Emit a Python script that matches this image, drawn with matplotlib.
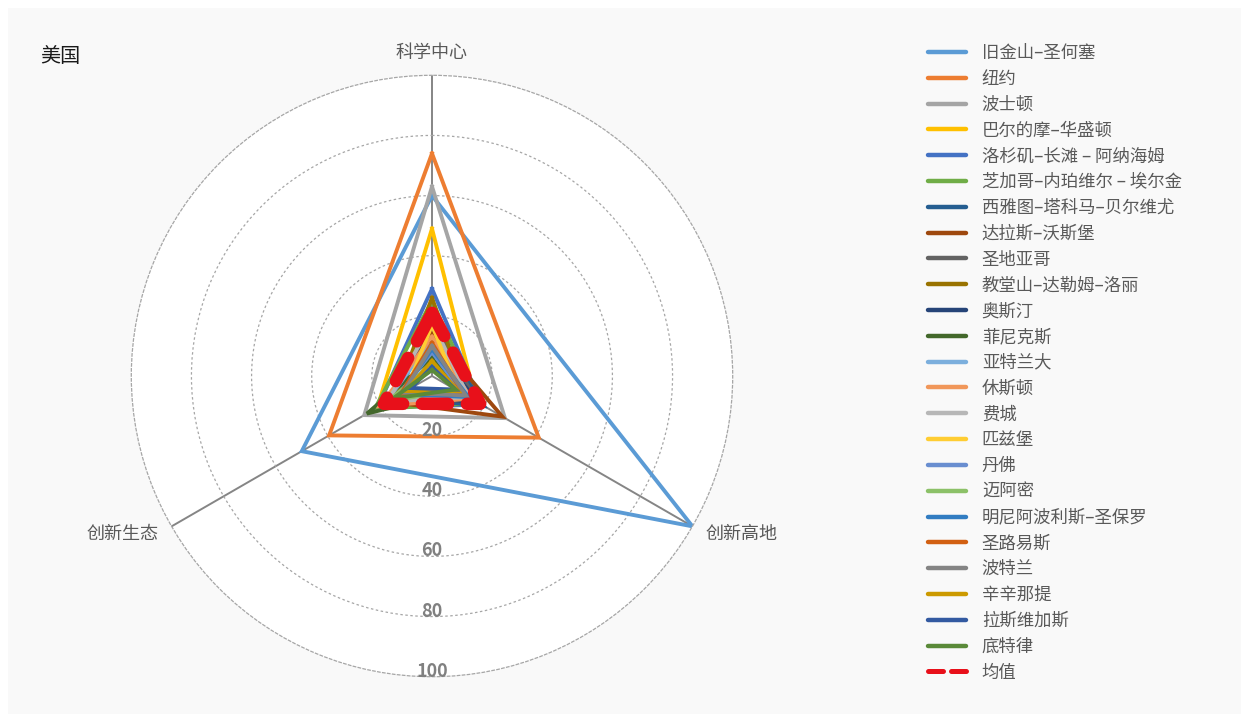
import numpy as np
import matplotlib
matplotlib.use('Agg')
import matplotlib.pyplot as plt
from matplotlib.patches import Rectangle

plt.rcParams['font.family'] = ['Noto Sans CJK SC', 'DejaVu Sans']

# three indicator axes, clockwise from the top
dims = ['科学中心', '创新高地', '创新生态']

cities = ['旧金山–圣何塞', '纽约', '波士顿', '巴尔的摩–华盛顿',
          '洛杉矶–长滩 – 阿纳海姆', '芝加哥–内珀维尔 – 埃尔金',
          '西雅图–塔科马–贝尔维尤', '达拉斯–沃斯堡', '圣地亚哥',
          '教堂山–达勒姆–洛丽', '奥斯汀', '菲尼克斯', '亚特兰大', '休斯顿',
          '费城', '匹兹堡', '丹佛', '迈阿密', '明尼阿波利斯–圣保罗',
          '圣路易斯', '波特兰', '辛辛那提', '拉斯维加斯', '底特律']

# scores per city: [科学中心, 创新高地, 创新生态]
science = [60, 74, 63, 49, 29, 25, 17, 14, 19, 26, 10, 6,
           12, 13, 18, 17, 8, 4, 9, 11, 10, 5, 3, 2]
highland = [100, 41, 28, 17, 19, 18, 20, 27, 17, 13, 18, 10,
            13, 15, 14, 10, 12, 9, 14, 12, 13, 10, 9, 9]
ecology = [50, 39.5, 26, 21, 21, 22, 14, 17, 15, 14, 12, 25,
           18, 20, 17, 10, 13, 17, 12, 12, 11, 10, 8, 15]
mean_vals = [21, 18.5, 18.5]

colors = ['#5B9BD5', '#ED7D31', '#A5A5A5', '#FFC000', '#4472C4', '#70AD47',
          '#255E91', '#9E480E', '#636363', '#997300', '#264478', '#43682B',
          '#7CAFDD', '#F1975A', '#B7B7B7', '#FFCD33', '#698ED0', '#8CC168',
          '#327DC2', '#D26012', '#848484', '#CC9A00', '#335AA1', '#5A8A39']

rings = [20, 40, 60, 80, 100]

W, H = 1241, 714
fig = plt.figure(figsize=(W / 100, H / 100), dpi=100, facecolor='white')
fig.patches.append(Rectangle((8 / W, 0), 1, 1 - 8 / H, transform=fig.transFigure,
                             facecolor='#F9F9F9', edgecolor='none', zorder=-10))

cx, cy, rad = 432, 376, 300.7
ax = fig.add_axes([(cx - rad) / W, (H - cy - rad) / H, 2 * rad / W, 2 * rad / H],
                  projection='polar')
ax.set_facecolor('white')
ax.set_theta_offset(np.pi / 2)
ax.set_theta_direction(-1)

angles = np.arange(len(dims)) * 2 * np.pi / len(dims)
closed = np.append(angles, angles[0])

ax.set_ylim(0, 100)
ax.set_yticks(rings[:-1])
ax.set_yticklabels([])
ax.set_xticks(angles)
ax.set_xticklabels([])
ax.yaxis.grid(True, color='#A6A6A6', linestyle=(0, (2, 2)), linewidth=0.9)
ax.xaxis.grid(True, color='#858585', linestyle='-', linewidth=1.4)
ax.spines['polar'].set_color('#A6A6A6')
ax.spines['polar'].set_linestyle((0, (2, 2)))
ax.spines['polar'].set_linewidth(0.9)
ax.tick_params(length=0)

for name, c, s, h, e in zip(cities, colors, science, highland, ecology):
    vals = [s, h, e, s]
    ax.plot(closed, vals, color=c, linewidth=2.8, label=name,
            solid_joinstyle='miter')

ax.plot(closed, mean_vals + mean_vals[:1], color='#E8101A', linewidth=9,
        linestyle=(0, (2.1, 1.5)), dash_capstyle='round', label='均值')

# ring values running down from the centre
for r in rings:
    ax.text(np.pi, r, str(r), ha='center', va='baseline', fontsize=13,
            color='#808080', fontweight='bold')

ax.text(0, 107.5, dims[0], ha='center', va='center', fontsize=13, color='#595959')
ax.text(angles[1], 105, dims[1], ha='left', va='center', fontsize=13, color='#595959')
ax.text(angles[2], 105, dims[2], ha='right', va='center', fontsize=13, color='#595959')

fig.text(40 / W, 1 - 56 / H, '美国', ha='left', va='center', fontsize=14.5,
         color='#1A1A1A')

leg = fig.legend(loc='upper left', bbox_to_anchor=(928 / W, 1 - 44 / H),
                 frameon=False, fontsize=12.5, handlelength=2.2,
                 handletextpad=0.9, labelspacing=0.45, borderpad=0,
                 borderaxespad=0)
for t in leg.get_texts():
    t.set_color('#595959')
for ln in leg.get_lines()[:-1]:
    ln.set_linewidth(3.2)
    ln.set_solid_capstyle('round')
mean_handle = leg.get_lines()[-1]
mean_handle.set_linewidth(3.6)
mean_handle.set_linestyle((0, (3.0, 1.6)))

fig.savefig('out.png', dpi=100, facecolor=fig.get_facecolor())
